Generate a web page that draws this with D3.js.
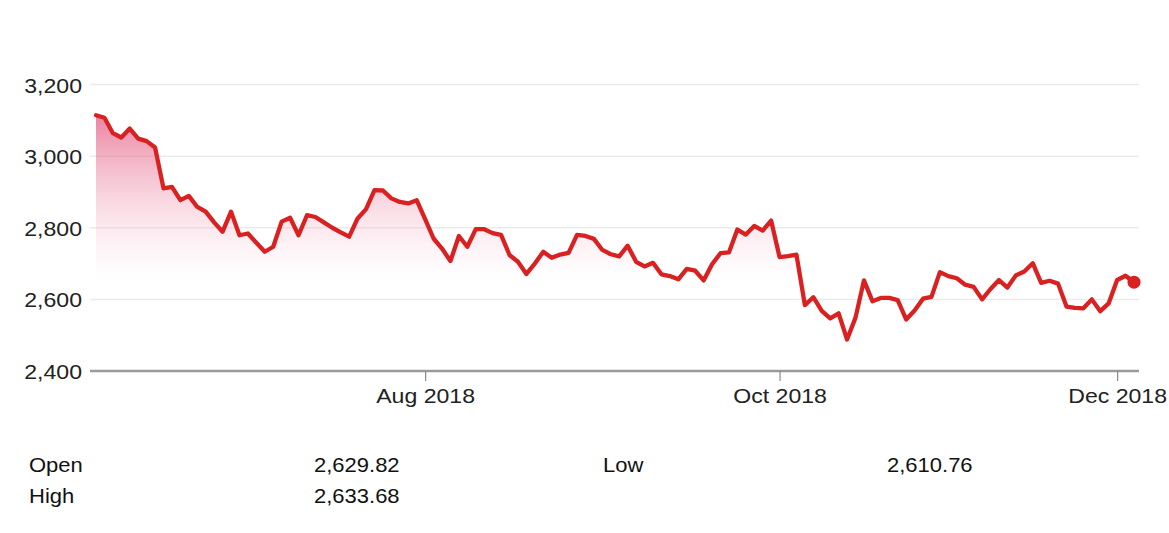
<!DOCTYPE html>
<html>
<head>
<meta charset="utf-8">
<script src="https://cdn.jsdelivr.net/npm/d3@7"></script>
<style>
  html, body { margin: 0; padding: 0; background: #fff; }
  svg { display: block; font-family: "Liberation Sans", Arial, sans-serif; }
</style>
</head>
<body>
<svg id="chart" width="1169" height="533"></svg>
<script>
// Trading days (categories)
const dates = [
  "2018-06-06","2018-06-07","2018-06-08","2018-06-11","2018-06-12","2018-06-13","2018-06-14","2018-06-15",
  "2018-06-19","2018-06-20","2018-06-21","2018-06-22","2018-06-25","2018-06-26","2018-06-27","2018-06-28","2018-06-29",
  "2018-07-02","2018-07-03","2018-07-04","2018-07-05","2018-07-06","2018-07-09","2018-07-10","2018-07-11","2018-07-12",
  "2018-07-13","2018-07-16","2018-07-17","2018-07-18","2018-07-19","2018-07-20","2018-07-23","2018-07-24","2018-07-25",
  "2018-07-26","2018-07-27","2018-07-30","2018-07-31",
  "2018-08-01","2018-08-02","2018-08-03","2018-08-06","2018-08-07","2018-08-08","2018-08-09","2018-08-10","2018-08-13",
  "2018-08-14","2018-08-15","2018-08-16","2018-08-17","2018-08-20","2018-08-21","2018-08-22","2018-08-23","2018-08-24",
  "2018-08-27","2018-08-28","2018-08-29","2018-08-30","2018-08-31",
  "2018-09-03","2018-09-04","2018-09-05","2018-09-06","2018-09-07","2018-09-10","2018-09-11","2018-09-12","2018-09-13",
  "2018-09-14","2018-09-17","2018-09-18","2018-09-19","2018-09-20","2018-09-21","2018-09-25","2018-09-26","2018-09-27",
  "2018-09-28",
  "2018-10-08","2018-10-09","2018-10-10","2018-10-11","2018-10-12","2018-10-15","2018-10-16","2018-10-17","2018-10-18",
  "2018-10-19","2018-10-22","2018-10-23","2018-10-24","2018-10-25","2018-10-26","2018-10-29","2018-10-30","2018-10-31",
  "2018-11-01","2018-11-02","2018-11-05","2018-11-06","2018-11-07","2018-11-08","2018-11-09","2018-11-12","2018-11-13",
  "2018-11-14","2018-11-15","2018-11-16","2018-11-19","2018-11-20","2018-11-21","2018-11-22","2018-11-23","2018-11-26",
  "2018-11-27","2018-11-28","2018-11-29","2018-11-30",
  "2018-12-03","2018-12-04","2018-12-05"
];

// Index closing values
const closes = [
  3114, 3107, 3064, 3052, 3077, 3049, 3042, 3024,
  2910, 2914, 2877, 2889, 2858, 2845, 2815, 2789, 2845,
  2779, 2784, 2758, 2733, 2747, 2817, 2828, 2779, 2835,
  2830, 2815, 2800, 2787, 2775, 2826, 2852, 2905, 2904,
  2882, 2872, 2868, 2877,
  2824, 2770, 2742, 2707, 2777, 2747, 2796, 2796, 2785,
  2780, 2724, 2705, 2671, 2700, 2733, 2716, 2725, 2730,
  2780, 2777, 2769, 2738, 2726,
  2720, 2750, 2705, 2692, 2702, 2670, 2665, 2656, 2685,
  2680, 2653, 2698, 2729, 2731, 2795, 2781, 2805, 2792,
  2820,
  2718, 2721, 2725, 2584, 2606, 2568, 2547, 2561, 2488,
  2549, 2653, 2595, 2604, 2604, 2598, 2544, 2569, 2602,
  2607, 2676, 2665, 2659, 2641, 2635, 2600, 2629, 2654,
  2633, 2667, 2678, 2701, 2646, 2652, 2644, 2580, 2576,
  2575, 2600, 2567, 2589,
  2654, 2666, 2648
];

const yTicks = [2400, 2600, 2800, 3000, 3200];
const xTickDates = ["2018-08-01", "2018-10-08", "2018-12-03"];
const xTickLabels = ["Aug 2018", "Oct 2018", "Dec 2018"];

const statLabels = ["Open", "High", "Low"];
const statValues = ["2,629.82", "2,633.68", "2,610.76"];

const svg = d3.select("#chart");
const plotLeft = 90, plotRight = 1139;
const x = d3.scalePoint().domain(dates).range([96, 1134]);
const y = d3.scaleLinear().domain([2400, 3200]).range([371, 84.5]);

const defs = svg.append("defs");
const grad = defs.append("linearGradient")
  .attr("id", "areaGrad").attr("gradientUnits", "userSpaceOnUse")
  .attr("x1", 0).attr("x2", 0).attr("y1", y(3120)).attr("y2", y(2650));
grad.append("stop").attr("offset", "0%").attr("stop-color", "#e3577f").attr("stop-opacity", 0.75);
grad.append("stop").attr("offset", "100%").attr("stop-color", "#f7c6d4").attr("stop-opacity", 0.0);

// gridlines
svg.append("g").selectAll("line").data(yTicks.filter(d => d !== 2400)).join("line")
  .attr("x1", plotLeft).attr("x2", plotRight)
  .attr("y1", d => y(d)).attr("y2", d => y(d))
  .attr("stroke", "#ebebeb").attr("stroke-width", 1.5);

const data = dates.map((d, i) => ({ d, v: closes[i] }));

// area
svg.append("path").datum(data)
  .attr("fill", "url(#areaGrad)")
  .attr("d", d3.area().x(p => x(p.d)).y0(y(2400)).y1(p => y(p.v)));

// x axis line
svg.append("line")
  .attr("x1", plotLeft).attr("x2", plotRight)
  .attr("y1", y(2400)).attr("y2", y(2400))
  .attr("stroke", "#9a9a9a").attr("stroke-width", 2.5);

// x axis ticks & labels
const xAxis = d3.axisBottom(x).tickValues(xTickDates)
  .tickFormat((d, i) => xTickLabels[i]).tickSize(10).tickPadding(0);
const gx = svg.append("g").attr("transform", `translate(0,${y(2400)})`).call(xAxis);
gx.select(".domain").remove();
gx.selectAll(".tick line").attr("stroke", "#8a8a8a").attr("stroke-width", 1.2);
gx.selectAll(".tick text")
  .attr("fill", "#222").attr("font-size", 21).attr("y", 0).attr("dy", 0)
  .attr("transform", "translate(0,32) scale(1.1,1)");

// y axis labels
const yAxis = d3.axisLeft(y).tickValues(yTicks).tickFormat(d3.format(",")).tickSize(0).tickPadding(0);
const gy = svg.append("g").attr("transform", "translate(82,0)").call(yAxis);
gy.select(".domain").remove();
gy.selectAll(".tick text")
  .attr("fill", "#222").attr("font-size", 21).attr("x", 0).attr("dy", "0.36em")
  .attr("transform", "scale(1.1,1)");

// line
svg.append("path").datum(data)
  .attr("fill", "none").attr("stroke", "#d92121").attr("stroke-width", 4.3)
  .attr("stroke-linejoin", "round").attr("stroke-linecap", "round")
  .attr("d", d3.line().x(p => x(p.d)).y(p => y(p.v)));

// last point dot
const last = data[data.length - 1];
svg.append("circle").attr("cx", x(last.d)).attr("cy", y(last.v)).attr("r", 6.5).attr("fill", "#d92121");

// stats table
const statPos = [
  { lx: 29, vx: 314, by: 472 },
  { lx: 29, vx: 314, by: 503 },
  { lx: 603, vx: 887, by: 472 }
];
const gs = svg.append("g");
statLabels.forEach((lab, i) => {
  const p = statPos[i];
  gs.append("text").attr("transform", `translate(${p.lx},${p.by}) scale(1.1,1)`)
    .attr("font-size", 20).attr("fill", "#111").text(lab);
  gs.append("text").attr("transform", `translate(${p.vx},${p.by}) scale(1.1,1)`)
    .attr("font-size", 20).attr("fill", "#111").text(statValues[i]);
});
</script>
</body>
</html>
